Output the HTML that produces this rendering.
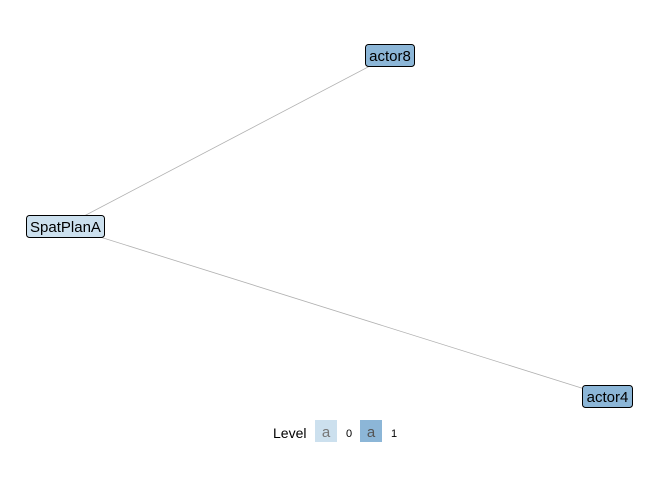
<!DOCTYPE html>
<html><head><meta charset="utf-8"><style>
html,body{margin:0;padding:0;background:#fff;}
svg{display:block;}
text{font-family:"Liberation Sans",Arial,sans-serif;}
</style></head><body>
<svg width="672" height="480" viewBox="0 0 672 480" xmlns="http://www.w3.org/2000/svg">
<rect width="672" height="480" fill="#fff"/>
<line x1="65" y1="226" x2="389" y2="56" stroke="#b0b0b0" stroke-width="0.8"/>
<line x1="65" y1="226" x2="607" y2="396" stroke="#b0b0b0" stroke-width="0.8"/>
<rect x="26.5" y="215.5" width="78" height="22" rx="3" fill="#cce0ee" stroke="#000" stroke-width="1"/>
<text x="65.5" y="232" font-size="15" text-anchor="middle" fill="#000">SpatPlanA</text>
<rect x="365.5" y="44.5" width="49" height="22" rx="3" fill="#8cb6d7" stroke="#000" stroke-width="1"/>
<text x="390" y="61" font-size="15" text-anchor="middle" fill="#000">actor8</text>
<rect x="582.5" y="385.5" width="50" height="22" rx="3" fill="#8cb6d7" stroke="#000" stroke-width="1"/>
<text x="607.5" y="402" font-size="15" text-anchor="middle" fill="#000">actor4</text>
<text x="273" y="438" font-size="14" fill="#000">Level</text>
<rect x="315" y="420" width="22" height="22" fill="#cce0ee"/>
<text x="326" y="437" font-size="15" text-anchor="middle" fill="#777">a</text>
<text x="346" y="437" font-size="11" fill="#000">0</text>
<rect x="360" y="420" width="22" height="22" fill="#8cb6d7"/>
<text x="371" y="437" font-size="15" text-anchor="middle" fill="#555">a</text>
<text x="391" y="437" font-size="11" fill="#000">1</text>
</svg>
</body></html>
